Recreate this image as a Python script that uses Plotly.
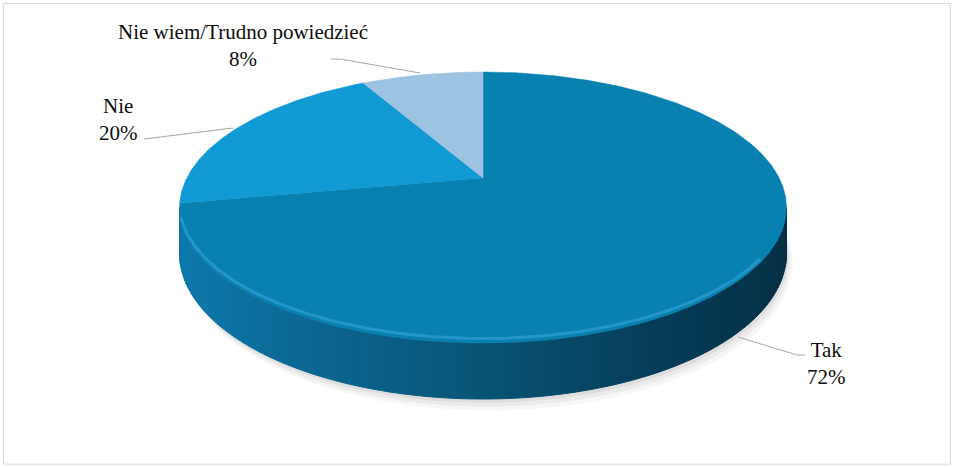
import numpy as np
import plotly.graph_objects as go

# ---- data ----
labels = ["Tak", "Nie", "Nie wiem/Trudno powiedzieć"]
values = [72, 20, 8]
colors = ["#0880B0", "#1199D4", "#9DC3E2"]

# ---- projection of a tilted (3D) pie onto the page ----
CX, CY = 483.0, 178.0
A, B, K = 296.2, 129.1, 0.2177
D = 43.8  # thickness


def proj(theta_deg, drop=0.0, dx=0.0):
    t = np.radians(theta_deg)
    u, v = np.sin(t), np.cos(t)
    w = 1 + K * v
    return CX + A * u / w + dx, CY - B * v / w + drop / w


fig = go.Figure()

# soft shadow
for drop, dx, alpha in [(D + 9, 6, 0.035), (D + 6, 4, 0.045), (D + 3, 2, 0.06)]:
    th = np.linspace(0, 360, 361)
    x, y = proj(th, drop, dx)
    fig.add_trace(go.Scatter(x=x, y=y, mode="lines", fill="toself",
                             fillcolor=f"rgba(0,0,0,{alpha})", line=dict(width=0),
                             hoverinfo="skip", showlegend=False))

# visible side (front), drawn as gradient strips
ts = np.degrees(np.arccos(-K))
edges = np.linspace(ts, 360 - ts, 121)
stops_x = [180, 300, 483, 650, 787]
stops_c = [(14, 122, 172), (12, 104, 148), (9, 84, 118), (6, 62, 90), (5, 48, 70)]
for a0, a1 in zip(edges[:-1], edges[1:]):
    th = np.linspace(a0, a1, 4)
    xt, yt = proj(th)
    xb, yb = proj(th[::-1], D)
    xm = proj((a0 + a1) / 2)[0]
    c = [int(np.interp(xm, stops_x, [s[i] for s in stops_c])) for i in range(3)]
    col = f"rgb({c[0]},{c[1]},{c[2]})"
    fig.add_trace(go.Scatter(x=np.r_[xt, xb, xt[:1]], y=np.r_[yt, yb, yt[:1]],
                             mode="lines", fill="toself", fillcolor=col,
                             line=dict(color=col, width=1),
                             hoverinfo="skip", showlegend=False))

# top face slices
total = sum(values)
start = 0.0
for lab, val, col in zip(labels, values, colors):
    span = 360.0 * val / total
    th = np.linspace(start, start + span, max(int(span * 2), 4))
    x, y = proj(th)
    fig.add_trace(go.Scatter(x=np.r_[CX, x, CX], y=np.r_[CY, y, CY], mode="lines",
                             fill="toself", fillcolor=col, line=dict(color=col, width=0.5),
                             name=lab, hoverinfo="skip", showlegend=False))
    start += span

# bevel highlight along the front rim of the top face
th = np.linspace(125, 252, 200)
x, y = proj(th, -3.5)
fig.add_trace(go.Scatter(x=x, y=y, mode="lines",
                         line=dict(color="rgba(70,175,230,0.45)", width=3),
                         hoverinfo="skip", showlegend=False))

# leader lines
leaders = [
    ([738, 797, 805], [337, 355, 355]),
    ([233, 157, 144], [128, 138, 139]),
    ([420, 340, 331], [73, 59, 59]),
]
for lx, ly in leaders:
    fig.add_trace(go.Scatter(x=lx, y=ly, mode="lines",
                             line=dict(color="#a6a6a6", width=1),
                             hoverinfo="skip", showlegend=False))

label_pos = [(826, 363), (118, 119), (243, 45)]
for lab, val, (ax_, ay_) in zip(labels, values, label_pos):
    pct = round(100 * val / total)
    fig.add_annotation(x=ax_, y=ay_, xref="x", yref="y", showarrow=False,
                       text=f"{lab}<br>{pct}%", align="center",
                       font=dict(family="Liberation Serif", size=21, color="#0d0d0d"))

fig.add_shape(type="rect", xref="paper", yref="paper", x0=0.0037, x1=0.9963,
              y0=0.006, y1=0.9925, line=dict(color="#d9d9d9", width=1))

fig.update_layout(
    width=954, height=467, margin=dict(l=0, r=0, t=0, b=0),
    paper_bgcolor="white", plot_bgcolor="white",
    xaxis=dict(range=[0, 954], visible=False, fixedrange=True),
    yaxis=dict(range=[467, 0], visible=False, fixedrange=True),
    showlegend=False,
)
fig.write_html("out.html")
